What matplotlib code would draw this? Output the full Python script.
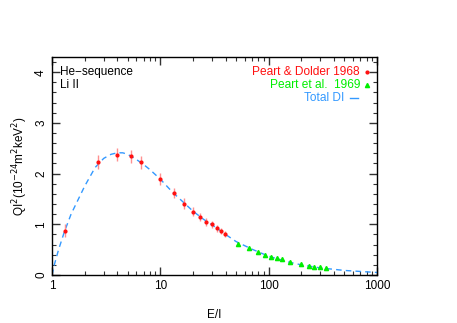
import numpy as np
import matplotlib
matplotlib.use("Agg")
import matplotlib.pyplot as plt
from matplotlib.ticker import LogLocator, MultipleLocator, NullFormatter

# Peart & Dolder 1968 (red points)
pd_e = [1.32, 2.66, 4.0, 5.33, 6.6, 10.0, 13.3, 16.7, 19.9, 23.1, 26.4, 30.0, 33.4, 36.6, 39.8]
pd_q = [0.87, 2.23, 2.37, 2.34, 2.22, 1.89, 1.62, 1.41, 1.25, 1.14, 1.05, 1.00, 0.92, 0.87, 0.81]
pd_err = [0.13, 0.13, 0.13, 0.13, 0.13, 0.12, 0.10, 0.10, 0.09, 0.08, 0.08, 0.07, 0.07, 0.06, 0.06]

# Peart et al. 1969 (green triangles)
pe_e = [52.5, 66.4, 79.8, 92.6, 105.8, 120.3, 132.0, 158.6, 197.9, 234.6, 264.0, 298.0, 337.0]
pe_q = [0.62, 0.53, 0.45, 0.39, 0.36, 0.33, 0.31, 0.25, 0.21, 0.17, 0.16, 0.16, 0.14]

# Total DI curve
di_e = [1.0, 1.05, 1.15, 1.3, 1.5, 2.0, 2.5, 3.0, 3.5, 4.0, 4.5, 5.0, 6.0, 7.0, 8.0, 10.0,
        13.0, 17.0, 20.0, 25.0, 30.0, 40.0, 50.0, 70.0, 100.0, 150.0, 200.0, 300.0, 500.0, 700.0, 1000.0]
di_q = [0.0, 0.2, 0.5, 0.85, 1.2, 1.75, 2.12, 2.3, 2.38, 2.41, 2.41, 2.38, 2.28, 2.18, 2.08, 1.89,
        1.63, 1.40, 1.26, 1.10, 0.99, 0.80, 0.66, 0.51, 0.37, 0.26, 0.20, 0.14, 0.09, 0.07, 0.05]

red = "#ff1010"
green = "#00ee00"
blue = "#3399ff"

plt.rcParams["font.family"] = ["Liberation Sans", "DejaVu Sans"]
fig = plt.figure(figsize=(4.57, 3.23), dpi=100)
ax = fig.add_axes([52 / 457, 48 / 323, 325 / 457, 218 / 323])

ax.plot(di_e, di_q, color=blue, lw=1.0, dashes=(4, 3), zorder=2)
ax.errorbar(pd_e, pd_q, yerr=pd_err, fmt="o", ms=2.0, color=red,
            ecolor="#ff9090", elinewidth=1.0, capsize=0, zorder=3)
ax.plot(pe_e, pe_q, "^", ms=3.0, color=green, mec=green, zorder=3)

ax.set_xscale("log")
ax.set_xlim(1, 1000)
ax.set_ylim(0, 4.3)
ax.xaxis.set_major_locator(LogLocator(base=10))
ax.xaxis.set_minor_locator(LogLocator(base=10, subs=np.arange(2, 10)))
ax.xaxis.set_minor_formatter(NullFormatter())
ax.set_xticks([1, 10, 100, 1000])
ax.set_xticklabels(["1", "10", "100", "1000"])
ax.yaxis.set_major_locator(MultipleLocator(1))
ax.yaxis.set_minor_locator(MultipleLocator(0.2))
ax.tick_params(which="both", direction="in", top=True, right=True, labelsize=8.5, color="#333333")
ax.tick_params(which="major", length=6, width=1)
ax.tick_params(which="minor", length=3, width=0.8)
for lab in ax.get_yticklabels():
    lab.set_rotation(90)
    lab.set_va("center")
for s in ax.spines.values():
    s.set_linewidth(1.0)

ax.set_xlabel("E/I", fontsize=8.5, labelpad=12)
ax.set_ylabel(r"QI$^2$(10$^{-24}$m$^2$keV$^2$)", fontsize=8.5, labelpad=4)

ax.text(0.025, 0.93, "He\u2212sequence", transform=ax.transAxes, fontsize=8.5, va="center")
ax.text(0.025, 0.87, "Li II", transform=ax.transAxes, fontsize=8.5, va="center")

ax.text(0.948, 0.93, "Peart & Dolder 1968", transform=ax.transAxes, fontsize=8.6,
        va="center", ha="right", color=red)
ax.plot([0.968], [0.93], "o", ms=2.0, color=red, transform=ax.transAxes, clip_on=False)
ax.text(0.948, 0.87, "Peart et al.  1969", transform=ax.transAxes, fontsize=8.6,
        va="center", ha="right", color=green)
ax.plot([0.968], [0.87], "^", ms=3.0, color=green, transform=ax.transAxes, clip_on=False)
ax.text(0.900, 0.81, "Total DI", transform=ax.transAxes, fontsize=8.6,
        va="center", ha="right", color=blue)
ax.plot([0.916, 0.94], [0.81, 0.81], color=blue, lw=1.0, transform=ax.transAxes)

fig.savefig("out.png", dpi=100)
